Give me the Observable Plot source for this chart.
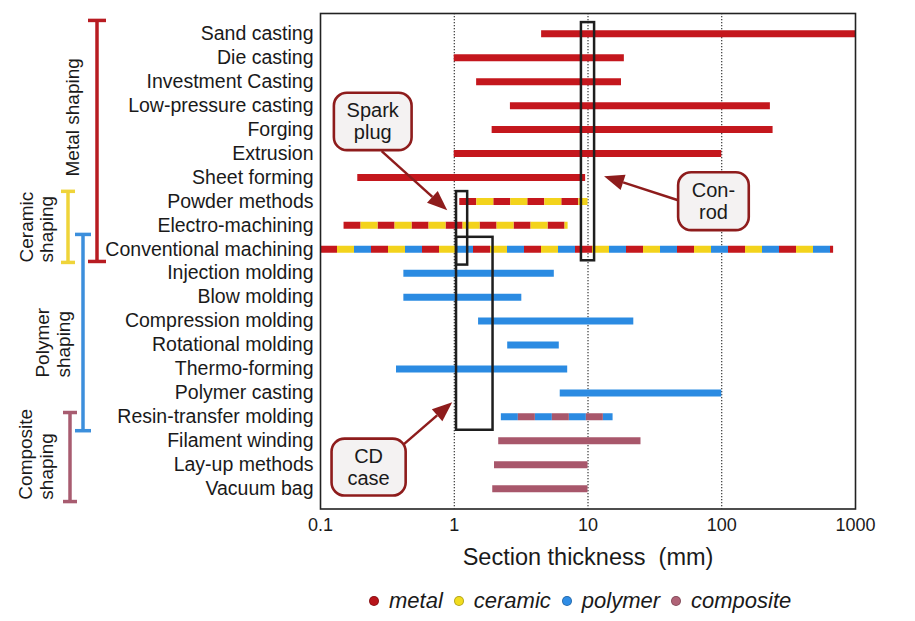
<!DOCTYPE html>
<html>
<head>
<meta charset="utf-8">
<script src="https://cdn.jsdelivr.net/npm/d3@7"></script>
<script src="https://cdn.jsdelivr.net/npm/@observablehq/plot@0.6"></script>
<style>
  html, body { margin: 0; padding: 0; background: #fff; }
  body { font-family: "Liberation Sans", Arial, Helvetica, sans-serif; width: 915px; height: 621px; overflow: hidden; }
  #chart svg { display: block; }
  #legend { display: flex; align-items: center; height: 41px; padding-left: 369px; font-size: 22px; font-style: italic; color: #1a1a1a; white-space: nowrap; }
  #legend .item { display: flex; align-items: center; margin-right: 11px; }
  #legend .dot { width: 10px; height: 10px; border-radius: 50%; margin-right: 10px; box-sizing: border-box; border: 1px solid rgba(0,0,0,0.25); }
</style>
</head>
<body>
<div id="chart"></div>
<div id="legend"></div>
<script>
// ---------- data ----------
const processes = [
  "Sand casting", "Die casting", "Investment Casting", "Low-pressure casting", "Forging",
  "Extrusion", "Sheet forming", "Powder methods", "Electro-machining", "Conventional machining",
  "Injection molding", "Blow molding", "Compression molding", "Rotational molding", "Thermo-forming",
  "Polymer casting", "Resin-transfer molding", "Filament winding", "Lay-up methods", "Vacuum bag"
];
const starts = [4.5, 1.0, 1.47, 2.63, 1.92, 1.0, 0.19, 1.1, 0.15, 0.1,
                0.42, 0.42, 1.52, 2.51, 0.37, 6.2, 2.25, 2.15, 2.0, 1.94];
const ends   = [1000, 18.7, 17.8, 231, 242, 100, 9.6, 10, 7.1, 686,
                5.6, 3.2, 22, 6.1, 7.05, 100, 15.4, 24.9, 10, 10];
const processMaterials = [
  "metal", "metal", "metal", "metal", "metal", "metal", "metal",
  "metal ceramic", "metal ceramic", "metal ceramic polymer",
  "polymer", "polymer", "polymer", "polymer", "polymer", "polymer",
  "polymer composite", "composite", "composite", "composite"
];
const materials = ["metal", "ceramic", "polymer", "composite"];
const xTicks = [0.1, 1, 10, 100, 1000];
const xTickLabels = ["0.1", "1", "10", "100", "1000"];
const xLabel = "Section thickness  (mm)";
const gridValues = [1, 10, 100];

const groupLabels = [["Metal shaping"], ["Ceramic", "shaping"], ["Polymer", "shaping"], ["Composite", "shaping"]];
const calloutLabels = [["Spark", "plug"], ["Con-", "rod"], ["CD", "case"]];

// ---------- styles / layout ----------
const materialColors = ["#c4171d", "#f3d31c", "#2b8be2", "#a8576b"];
const legendColors = ["#b8141a", "#f1dc1e", "#2f8de6", "#b06377"];
const groupColors = ["#b81c22", "#efd43a", "#3c8fdc", "#a85c70"];
const segLen = 17;

// group brackets: row extents (fractional row units), bracket x (px), label line x (px), label start row
const groupLayout = [
  {rows: [-0.54, 9.53], bx: 97, cap: 18, lx: [72], lrow: 5.98},
  {rows: [6.6, 9.57],   bx: 68, cap: 14, lx: [26, 46], lrow: 9.57},
  {rows: [8.4, 16.6],   bx: 83, cap: 16, lx: [42, 63], lrow: 14.38},
  {rows: [15.84, 19.56], bx: 70, cap: 14, lx: [25, 46], lrow: 19.48}
];
// callouts in data units: box x-range, box row-range, arrow tail, arrow tip
const calloutLayout = [
  {x: [0.127, 0.484], r: [2.48, 4.88], from: [0.289, 4.92], to: [0.894, 7.39]},
  {x: [47.6, 160.6], r: [5.8, 8.22],  from: [47.6, 6.97],  to: [13.3, 5.97]},
  {x: [0.122, 0.437], r: [16.93, 19.31], from: [0.42, 17.18], to: [0.974, 15.41]}
];
// highlighted product boxes (data units)
const highlightLayout = [
  {x: [1.04, 1.26], r: [6.59, 9.66]},
  {x: [8.93, 11.2], r: [-0.47, 9.48]},
  {x: [1.04, 1.95], r: [8.5, 16.56]}
];

// ---------- build segments ----------
const segments = processes.flatMap((p, i) => {
  const ms = processMaterials[i].split(" ");
  return ms.map((m, k) => ({process: p, x1: starts[i], x2: ends[i], material: m, n: ms.length, k}));
});
const combos = d3.groups(segments, d => `${d.n}-${d.k}`);
const barMarks = combos.map(([key, rows]) => {
  const {n, k} = rows[0];
  const opts = {y: "process", x1: "x1", x2: "x2", stroke: "material", strokeWidth: 7};
  if (n > 1) {
    opts.strokeDasharray = `${segLen} ${segLen * (n - 1)}`;
    opts.strokeDashoffset = (segLen * (n - k)) % (segLen * n);
  }
  return Plot.ruleY(rows, opts);
});

function annotations(index, scales) {
  const x = scales.x, y = scales.y;
  const y0 = y(processes[0]);
  const step = y(processes[1]) - y0;
  const ry = r => y0 + r * step;
  const g = d3.create("svg:g");

  // group brackets
  groupLayout.forEach((gl, i) => {
    const col = groupColors[i];
    const t = ry(gl.rows[0]), b = ry(gl.rows[1]);
    const gg = g.append("g").attr("stroke", col).attr("stroke-width", 3.5).attr("fill", "none");
    gg.append("line").attr("x1", gl.bx).attr("x2", gl.bx).attr("y1", t).attr("y2", b);
    gg.append("line").attr("x1", gl.bx - gl.cap / 2).attr("x2", gl.bx + gl.cap / 2).attr("y1", t).attr("y2", t);
    gg.append("line").attr("x1", gl.bx - gl.cap / 2).attr("x2", gl.bx + gl.cap / 2).attr("y1", b).attr("y2", b);
    const ly = ry(gl.lrow);
    groupLabels[i].forEach((line, j) => {
      g.append("text")
        .attr("transform", `translate(${gl.lx[j]},${ly}) rotate(-90)`)
        .attr("text-anchor", "start")
        .attr("dy", "0.35em")
        .attr("font-size", 19)
        .attr("fill", "#1a1a1a")
        .text(line);
    });
  });

  // highlight boxes
  highlightLayout.forEach(h => {
    g.append("rect")
      .attr("x", x(h.x[0])).attr("width", x(h.x[1]) - x(h.x[0]))
      .attr("y", ry(h.r[0])).attr("height", ry(h.r[1]) - ry(h.r[0]))
      .attr("fill", "none").attr("stroke", "#1e1e1e").attr("stroke-width", 2.5);
  });

  // callouts
  const ac = "#8e1c1c";
  calloutLayout.forEach((c, i) => {
    const fx = x(c.from[0]), fy = ry(c.from[1]);
    const tx = x(c.to[0]), ty = ry(c.to[1]);
    const dx = tx - fx, dy = ty - fy, len = Math.hypot(dx, dy);
    const ux = dx / len, uy = dy / len;
    const hl = 20, hw = 8;
    const bx = tx - ux * hl, by = ty - uy * hl;
    g.append("line").attr("x1", fx).attr("y1", fy).attr("x2", bx).attr("y2", by)
      .attr("stroke", ac).attr("stroke-width", 2.5);
    g.append("path")
      .attr("d", `M${tx},${ty}L${bx - uy * hw},${by + ux * hw}L${bx + uy * hw},${by - ux * hw}Z`)
      .attr("fill", ac);
    const x1 = x(c.x[0]), x2 = x(c.x[1]), t = ry(c.r[0]), b = ry(c.r[1]);
    g.append("rect").attr("x", x1).attr("y", t).attr("width", x2 - x1).attr("height", b - t)
      .attr("rx", 13).attr("ry", 13)
      .attr("fill", "#f4f2f2").attr("stroke", ac).attr("stroke-width", 2.6);
    const cx = (x1 + x2) / 2, cy = (t + b) / 2;
    calloutLabels[i].forEach((line, j) => {
      g.append("text").attr("x", cx).attr("y", cy + (j - 0.5) * 22)
        .attr("dy", "0.35em").attr("text-anchor", "middle")
        .attr("font-size", 20).attr("fill", "#1a1a1a").text(line);
    });
  });
  return g.node();
}

const chart = Plot.plot({
  width: 915,
  height: 580,
  marginLeft: 320,
  marginRight: 60,
  marginTop: 13,
  marginBottom: 71.5,
  style: {fontFamily: "'Liberation Sans', Arial, Helvetica, sans-serif", color: "#1a1a1a", background: "#fff", overflow: "visible"},
  x: {type: "log", domain: [0.1, 1000]},
  y: {type: "point", domain: processes, padding: 0.85, round: false},
  color: {domain: materials, range: materialColors},
  marks: [
    Plot.ruleX(gridValues, {stroke: "#111", strokeDasharray: "1.3 1.7", strokeWidth: 1}),
    ...barMarks,
    Plot.frame({stroke: "#222", strokeWidth: 1.6}),
    Plot.axisX({ticks: xTicks, tickFormat: d => xTickLabels[xTicks.indexOf(d)], tickSize: 0, tickPadding: 9, fontSize: 18, label: null}),
    Plot.axisY({tickSize: 0, tickPadding: 7, fontSize: 19.5, label: null}),
    Plot.text([xLabel], {frameAnchor: "bottom", dy: 48.5, fontSize: 23.5, text: d => d, lineAnchor: "middle"}),
    annotations
  ]
});
document.getElementById("chart").appendChild(chart);

// legend
const legend = d3.select("#legend");
materials.forEach((m, i) => {
  const item = legend.append("div").attr("class", "item");
  item.append("span").attr("class", "dot").style("background", legendColors[i]);
  item.append("span").text(m);
});
</script>
</body>
</html>
